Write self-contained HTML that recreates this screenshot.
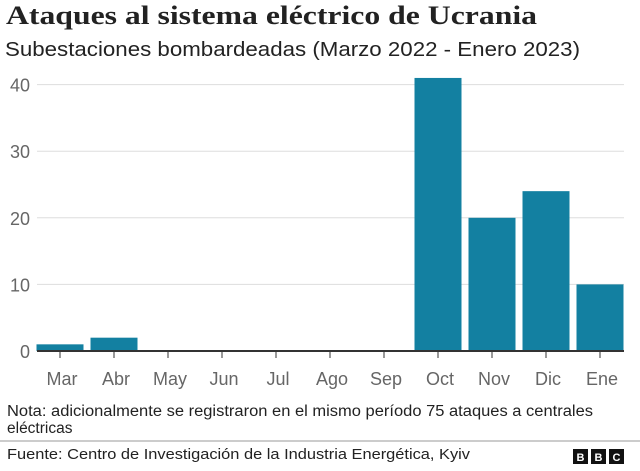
<!DOCTYPE html>
<html><head><meta charset="utf-8"><style>
html,body{margin:0;padding:0;background:#fff;width:640px;height:471px;overflow:hidden}
svg{display:block}
</style></head><body>
<svg width="640" height="471" xmlns="http://www.w3.org/2000/svg">
<text x="6" y="24" font-family="Liberation Serif, serif" font-weight="bold" font-size="26" fill="#222" textLength="531" lengthAdjust="spacingAndGlyphs">Ataques al sistema eléctrico de Ucrania</text>
<text x="5" y="56" font-family="Liberation Sans, sans-serif" font-size="20" fill="#222" textLength="575" lengthAdjust="spacingAndGlyphs">Subestaciones bombardeadas (Marzo 2022 - Enero 2023)</text>
<g id="grid"></g>
<g id="bars"></g>
<g id="xaxis"></g>
<text x="7" y="416" font-family="Liberation Sans, sans-serif" font-size="15.5" fill="#222" textLength="586" lengthAdjust="spacingAndGlyphs">Nota: adicionalmente se registraron en el mismo período 75 ataques a centrales</text>
<text x="7" y="433" font-family="Liberation Sans, sans-serif" font-size="15.5" fill="#222">eléctricas</text>
<line x1="0" y1="441" x2="640" y2="441" stroke="#999" stroke-width="1"/>
<text x="7" y="459" font-family="Liberation Sans, sans-serif" font-size="14.5" fill="#222" textLength="463" lengthAdjust="spacingAndGlyphs">Fuente: Centro de Investigación de la Industria Energética, Kyiv</text>
<g font-family="Liberation Sans, sans-serif" font-weight="bold" font-size="11" fill="#fff" text-anchor="middle">
<rect x="573" y="449" width="15" height="15" fill="#111"/><text x="580.5" y="461">B</text>
<rect x="591" y="449" width="15" height="15" fill="#111"/><text x="598.5" y="461">B</text>
<rect x="609" y="449" width="15" height="15" fill="#111"/><text x="616.5" y="461">C</text>
</g>
</svg>
<script>
const categories=["Mar","Abr","May","Jun","Jul","Ago","Sep","Oct","Nov","Dic","Ene"];
const values=[1,2,0,0,0,0,0,41,20,24,10];
const yTicks=[0,10,20,30,40];
const NS="http://www.w3.org/2000/svg";
const y0=351, pxPer=6.66, x0=60, step=54, bw=47;
const y=v=>y0-v*pxPer;
const x=i=>x0+i*step;
function mk(t,a,p){const e=document.createElementNS(NS,t);for(const k in a)e.setAttribute(k,a[k]);p.appendChild(e);return e;}
const grid=document.getElementById('grid'),bars=document.getElementById('bars'),xa=document.getElementById('xaxis');
yTicks.forEach(v=>{
 if(v>0){const l=mk('line',{x1:37,x2:624,y1:y(v),y2:y(v),stroke:'#ddd','stroke-width':1},grid);
 
 }
 const t=mk('text',{x:30,y:y(v)+7,'text-anchor':'end','font-family':'Liberation Sans, sans-serif','font-size':18,fill:'#666'},grid);
 t.textContent=v;
 
 
});
values.forEach((v,i)=>{
 const r=mk('rect',{x:x(i)-bw/2,y:y(v),width:bw,height:v*pxPer,fill:'#1380a1'},bars);
 
 
});
const ax=mk('line',{x1:37,x2:624,y1:y0,y2:y0,stroke:'#333','stroke-width':2},xa);


categories.forEach((c,i)=>{
 const tk=mk('line',{x1:x(i),x2:x(i),y1:y0,y2:y0+7,stroke:'#333','stroke-width':1},xa);
 
 
 const t=mk('text',{x:x(i)+2,y:385,'text-anchor':'middle','font-family':'Liberation Sans, sans-serif','font-size':18,fill:'#666'},xa);
 t.textContent=c;
 
 
});
</script>
</body></html>
